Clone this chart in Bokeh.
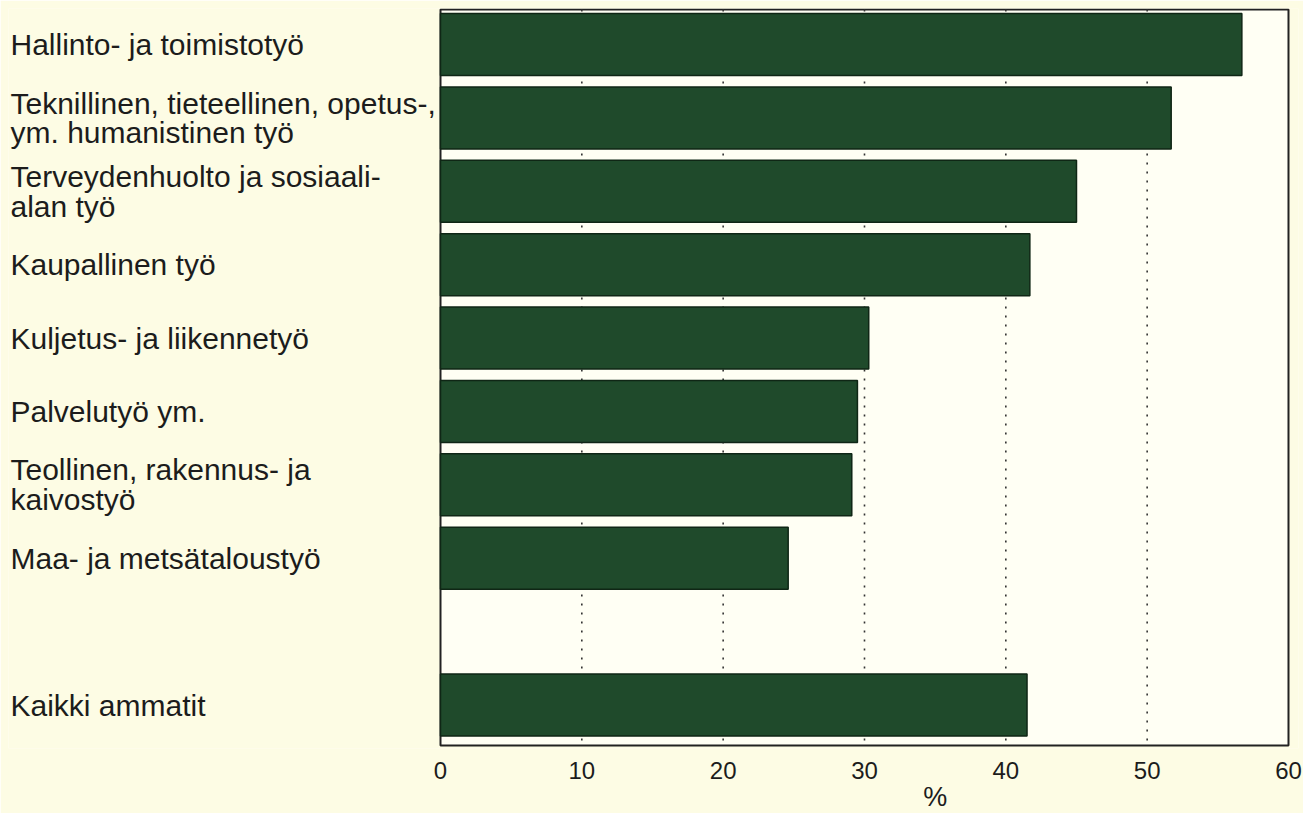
from bokeh.plotting import figure
from bokeh.models import Range1d, FixedTicker, LinearAxis, ColumnDataSource
from bokeh.core.properties import value
from bokeh.embed import file_html
from bokeh.resources import INLINE

# ---- data ----
categories = [
    "Hallinto- ja toimistotyö",
    "Teknillinen, tieteellinen, opetus-,\nym. humanistinen työ",
    "Terveydenhuolto ja sosiaali-\nalan työ",
    "Kaupallinen työ",
    "Kuljetus- ja liikennetyö",
    "Palvelutyö ym.",
    "Teollinen, rakennus- ja\nkaivostyö",
    "Maa- ja metsätaloustyö",
    "Kaikki ammatit",
]
slots = [0, 1, 2, 3, 4, 5, 6, 7, 9]
values = [56.7, 51.7, 45.0, 41.7, 30.3, 29.5, 29.1, 24.6, 41.5]
x_ticks = [0, 10, 20, 30, 40, 50, 60]
grid_ticks = [10, 20, 30, 40, 50]
x_axis_title = "%"
x_title_pos = 35

OUTER_BG = "#fdfce4"
INNER_BG = "#fffff4"
BAR_FILL = "#1f4a2b"
BAR_LINE = "#0f2615"
TEXT = "#1c1c1c"
FONT = "Liberation Sans"

x_start, x_end = -30.566, 60.708
y_top, y_bottom = -0.4905, 9.5927
box_top, box_bottom = -0.4769, 9.5518

p = figure(
    frame_width=1290, frame_height=740,
    x_range=Range1d(x_start, x_end), y_range=Range1d(y_bottom, y_top),
    min_border_left=8, min_border_right=5, min_border_top=8, min_border_bottom=64,
    output_backend="svg", toolbar_location=None, y_axis_location=None,
)
p.background_fill_color = OUTER_BG
p.border_fill_color = OUTER_BG
p.outline_line_color = None
p.xgrid.visible = False
p.ygrid.visible = False

# plot box
p.quad(left=[x_ticks[0]], right=[x_ticks[-1]], top=[box_top], bottom=[box_bottom],
       fill_color=INNER_BG, line_color="#222222", line_width=2)

# dotted gridlines
p.segment(x0=grid_ticks, x1=grid_ticks, y0=[box_top] * len(grid_ticks), y1=[box_bottom] * len(grid_ticks),
          line_color="#333333", line_width=1.6, line_dash="2 7")

src = ColumnDataSource(dict(y=slots, v=values, label=categories,
                            lx=[x_start + 0.14] * len(slots)))

p.hbar(y="y", left=0, right="v", height=0.845, source=src,
       fill_color=BAR_FILL, line_color=BAR_LINE, line_width=1.5)

p.text(x="lx", y="y", text="label", source=src,
       text_font=value(FONT), text_font_size="30px", text_color=TEXT,
       text_align="left", text_baseline="middle", text_line_height=0.9)

ax = p.xaxis[0]
ax.ticker = FixedTicker(ticks=x_ticks)
ax.axis_line_color = None
ax.major_tick_line_color = None
ax.minor_tick_line_color = None
ax.major_label_standoff = 7
ax.major_label_text_font = FONT
ax.major_label_text_font_size = "24px"
ax.major_label_text_color = TEXT

# "%" title placed as the single tick label of a second bottom axis
ax2 = LinearAxis(ticker=FixedTicker(ticks=[x_title_pos]),
                 major_label_overrides={x_title_pos: x_axis_title})
ax2.axis_line_color = None
ax2.major_tick_line_color = None
ax2.minor_tick_line_color = None
ax2.major_label_standoff = -6
ax2.major_label_text_font = FONT
ax2.major_label_text_font_size = "27px"
ax2.major_label_text_color = TEXT
p.add_layout(ax2, "below")

open("out.html", "w").write(file_html(p, INLINE))
